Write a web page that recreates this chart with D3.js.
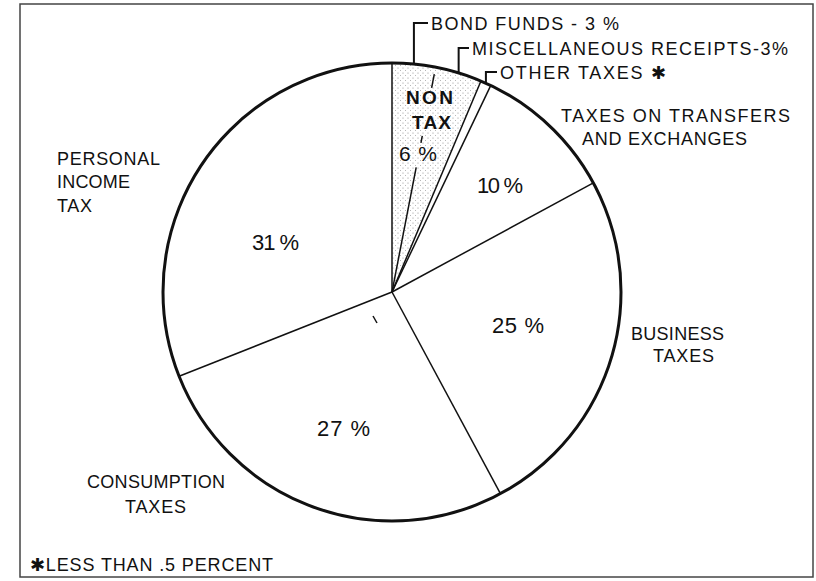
<!DOCTYPE html>
<html>
<head>
  <meta charset="utf-8">
  <title>Revenue by source</title>
  <script src="https://d3js.org/d3.v7.min.js"></script>
  <style>
    body { margin: 0; background: #fff; }
    svg text { font-family: "Liberation Sans", Arial, sans-serif; fill: #111; }
  </style>
</head>
<body>
  <svg id="chart"></svg>

  <script>
    // slices clockwise from 12 o'clock
    const categories = ["Bond funds", "Miscellaneous receipts", "Other taxes",
      "Taxes on transfers and exchanges", "Business taxes", "Consumption taxes", "Personal income tax"];
    const values = [3.05, 3.3, 0.75, 10.0, 25.05, 26.85, 31.0];
    const nonTax = [true, true, false, false, false, false, false];
    const pctLabels = ["", "", "", "10 %", "25 %", "27 %", "31 %"];
    const calloutLabels = ["BOND FUNDS - 3 %", "MISCELLANEOUS RECEIPTS-3%", "OTHER TAXES \u2731"];

    const width = 816, height = 581;
    const cx = 392, cy = 292, radius = 229;

    const svg = d3.select("#chart")
      .attr("width", width)
      .attr("height", height);

    const pattern = svg.append("defs").append("pattern")
      .attr("id", "stipple")
      .attr("width", 5)
      .attr("height", 5)
      .attr("patternUnits", "userSpaceOnUse");
    pattern.append("circle").attr("cx", 1).attr("cy", 1).attr("r", 0.55).style("fill", "#888");
    pattern.append("circle").attr("cx", 3.5).attr("cy", 3.5).attr("r", 0.55).style("fill", "#aaa");

    // frame
    svg.append("rect")
      .attr("x", 20).attr("y", 4)
      .attr("width", 793).attr("height", 573)
      .style("fill", "none")
      .style("stroke", "#444")
      .style("stroke-width", 1.5);

    const pie = d3.pie().sort(null).value(d => d);
    const arcs = pie(values);
    const arc = d3.arc().innerRadius(0).outerRadius(radius);

    const g = svg.append("g").attr("transform", `translate(${cx},${cy})`);

    g.selectAll(".slice")
      .data(arcs)
      .enter()
      .append("path")
      .attr("class", "slice")
      .attr("d", arc)
      .style("fill", (d, i) => nonTax[i] ? "url(#stipple)" : "#fff");

    const pt = (a, r) => [r * Math.sin(a), -r * Math.cos(a)];

    // dividers; the bond/misc one is broken around the NON TAX text
    arcs.forEach((d, i) => {
      const segs = i === 1 ? [[0, 127], [152, 159], [208, 222]] : [[0, radius]];
      segs.forEach(([r0, r1]) => {
        const p0 = pt(d.startAngle, r0), p1 = pt(d.startAngle, r1);
        g.append("line")
          .attr("x1", p0[0]).attr("y1", p0[1])
          .attr("x2", p1[0]).attr("y2", p1[1])
          .style("stroke", "#111")
          .style("stroke-width", 1.5);
      });
    });

    g.append("circle")
      .attr("r", radius)
      .style("fill", "none")
      .style("stroke", "#111")
      .style("stroke-width", 3);

    // stray mark near the centre
    g.append("line")
      .attr("x1", -19).attr("y1", 24).attr("x2", -15).attr("y2", 31)
      .style("stroke", "#111").style("stroke-width", 1.5);

    // bracket callouts for the three thin slices
    const callouts = [
      { y: 30, x: 431, w: 188 },
      { y: 55, x: 472, w: 316 },
      { y: 79, x: 500, w: 166 }
    ];
    callouts.forEach((c, i) => {
      const mid = (arcs[i].startAngle + arcs[i].endAngle) / 2;
      const lx = radius * Math.sin(mid);
      const ly = -Math.sqrt(radius * radius - lx * lx);
      const top = c.y - 7 - cy;
      g.append("path")
        .attr("d", `M${c.x - 3 - cx},${top}H${lx}V${ly}`)
        .style("fill", "none")
        .style("stroke", "#111")
        .style("stroke-width", 2);
      svg.append("text")
        .attr("x", c.x).attr("y", c.y)
        .attr("textLength", c.w).attr("lengthAdjust", "spacing")
        .style("font-size", "18px")
        .text(calloutLabels[i]);
    });

    const pctPos = [null, null, null,
      { x: 477, y: 193, w: 46 },
      { x: 492, y: 333, w: 52 },
      { x: 317, y: 436, w: 53 },
      { x: 252, y: 250, w: 47 }];
    pctLabels.forEach((t, i) => {
      if (!t) return;
      svg.append("text")
        .attr("x", pctPos[i].x).attr("y", pctPos[i].y)
        .attr("textLength", pctPos[i].w).attr("lengthAdjust", "spacing")
        .style("font-size", "22px")
        .text(t);
    });

    const labels = [
      { t: "NON", x: 406, y: 104, w: 47, s: 19, b: true },
      { t: "TAX", x: 412, y: 129, w: 39, s: 19, b: true },
      { t: "6 %", x: 399, y: 161, w: 38, s: 21 },
      { t: "TAXES ON TRANSFERS", x: 561, y: 122, w: 229, s: 18 },
      { t: "AND EXCHANGES", x: 582, y: 145, w: 165, s: 18 },
      { t: "PERSONAL", x: 57, y: 165, w: 103, s: 18 },
      { t: "INCOME", x: 57, y: 188, w: 73, s: 18 },
      { t: "TAX", x: 57, y: 212, w: 35, s: 18 },
      { t: "BUSINESS", x: 631, y: 340, w: 93, s: 18 },
      { t: "TAXES", x: 653, y: 362, w: 61, s: 18 },
      { t: "CONSUMPTION", x: 87, y: 488, w: 138, s: 18 },
      { t: "TAXES", x: 125, y: 513, w: 61, s: 18 },
      { t: "\u2731LESS THAN .5 PERCENT", x: 30, y: 571, w: 243, s: 18 }
    ];
    svg.selectAll(".label")
      .data(labels)
      .enter()
      .append("text")
      .attr("class", "label")
      .attr("x", d => d.x)
      .attr("y", d => d.y)
      .attr("textLength", d => d.w)
      .attr("lengthAdjust", "spacing")
      .style("font-size", d => d.s + "px")
      .style("font-weight", d => d.b ? "bold" : "normal")
      .text(d => d.t);
  </script>
</body>
</html>
